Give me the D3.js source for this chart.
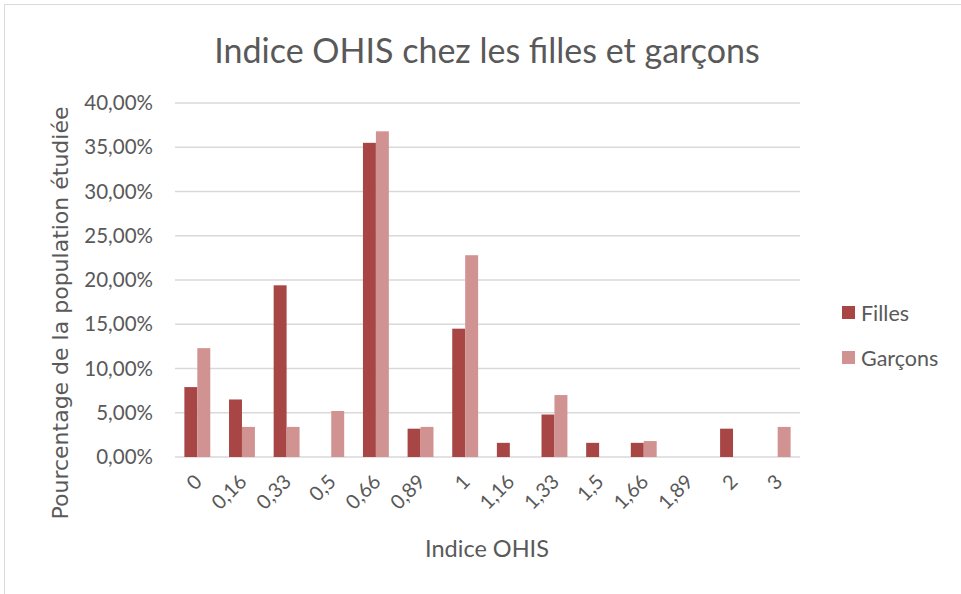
<!DOCTYPE html>
<html>
<head>
<meta charset="utf-8">
<script src="https://cdn.jsdelivr.net/npm/d3@7"></script>
<style>
  body { margin: 0; background: #fff; }
  text { fill: #595959; }
</style>
</head>
<body>
<div class="svg-container"></div>
<script>
const categories = ["0", "0,16", "0,33", "0,5", "0,66", "0,89", "1", "1,16", "1,33", "1,5", "1,66", "1,89", "2", "3"];
const filles  = [7.9, 6.5, 19.4, 0, 35.5, 3.2, 14.5, 1.6, 4.8, 1.6, 1.6, 0, 3.2, 0];
const garcons = [12.3, 3.4, 3.4, 5.2, 36.8, 3.4, 22.8, 0, 7.0, 0, 1.8, 0, 0, 3.4];
const seriesNames = ["Filles", "Garçons"];
const yTicks = [0, 5, 10, 15, 20, 25, 30, 35, 40];

const colors = { "Filles": "#A84646", "Garçons": "#D19292" };

let margin = { top: 103, left: 175 },
    width = 625,
    height = 354;

let svg = d3.select(".svg-container").append("svg")
  .attr("width", 961)
  .attr("height", 594);

// chart border
svg.append("rect")
  .attr("x", 4.5).attr("y", 4.5)
  .attr("width", 970).attr("height", 600)
  .attr("fill", "none")
  .attr("stroke", "#D9D9D9")
  .attr("stroke-width", 1);

let g = svg.append("g")
  .attr("transform", "translate(" + margin.left + "," + margin.top + ")");

let x0 = d3.scaleBand().domain(categories).range([0, width]).paddingInner(0.42).paddingOuter(0.21);
let x1 = d3.scaleBand().domain(seriesNames).range([0, x0.bandwidth()]);
let y = d3.scaleLinear().domain([0, 40]).range([height, 0]);

// gridlines
g.selectAll(".grid")
  .data(yTicks)
  .enter().append("line")
  .attr("x1", 0).attr("x2", width)
  .attr("y1", d => y(d)).attr("y2", d => y(d))
  .attr("stroke", "#D9D9D9")
  .attr("stroke-width", 1.5);

// y tick labels
let fmt = d => d3.format(".2f")(d).replace(".", ",") + "%";
g.selectAll(".ylab")
  .data(yTicks)
  .enter().append("text")
  .attr("x", -22)
  .attr("y", d => y(d))
  .attr("dy", "0.35em")
  .attr("text-anchor", "end")
  .style("font-family", "Lato, 'Open Sans', sans-serif")
  .style("font-size", "20.5px")
  .text(fmt);

// bars
let rows = categories.map((c, i) => ({ cat: c, values: [
  { key: "Filles", value: filles[i] },
  { key: "Garçons", value: garcons[i] }
]}));

let grp = g.selectAll(".cat")
  .data(rows)
  .enter().append("g")
  .attr("transform", d => "translate(" + x0(d.cat) + ",0)");

grp.selectAll("rect")
  .data(d => d.values.filter(v => v.value > 0))
  .enter().append("rect")
  .attr("x", d => x1(d.key))
  .attr("width", x1.bandwidth())
  .attr("y", d => y(d.value))
  .attr("height", d => height - y(d.value))
  .attr("fill", d => colors[d.key]);

// x tick labels
g.selectAll(".xlab")
  .data(categories)
  .enter().append("text")
  .attr("transform", d => "translate(" + (x0(d) + x0.bandwidth() / 2 + 1) + "," + (height + 21) + ") rotate(-45)")
  .attr("text-anchor", "end")
  .attr("dy", "0.35em")
  .style("font-family", "Lato, 'Open Sans', sans-serif")
  .style("font-size", "20px")
  .text(d => d);

// title
svg.append("text")
  .attr("x", 487)
  .attr("y", 63)
  .attr("text-anchor", "middle")
  .style("font-family", "Lato, 'Open Sans', sans-serif")
  .style("font-size", "34px")
  .text("Indice OHIS chez les filles et garçons");

// axis titles
svg.append("text")
  .attr("x", 487)
  .attr("y", 557)
  .attr("text-anchor", "middle")
  .style("font-family", "Lato, 'Open Sans', sans-serif")
  .style("font-size", "23.5px")
  .text("Indice OHIS");

svg.append("text")
  .attr("transform", "translate(68,313) rotate(-90)")
  .attr("text-anchor", "middle")
  .style("font-family", "'DejaVu Sans', sans-serif")
  .style("font-size", "22px")
  .text("Pourcentage de la population étudiée");

// legend
let legend = svg.selectAll(".legend")
  .data(seriesNames)
  .enter().append("g")
  .attr("transform", (d, i) => "translate(842," + (306 + i * 45) + ")");

legend.append("rect")
  .attr("width", 13).attr("height", 13)
  .attr("fill", d => colors[d]);

legend.append("text")
  .attr("x", 19)
  .attr("y", 7)
  .attr("dy", "0.35em")
  .style("font-family", "Lato, 'Open Sans', sans-serif")
  .style("font-size", "21.5px")
  .text(d => d);
</script>
</body>
</html>
